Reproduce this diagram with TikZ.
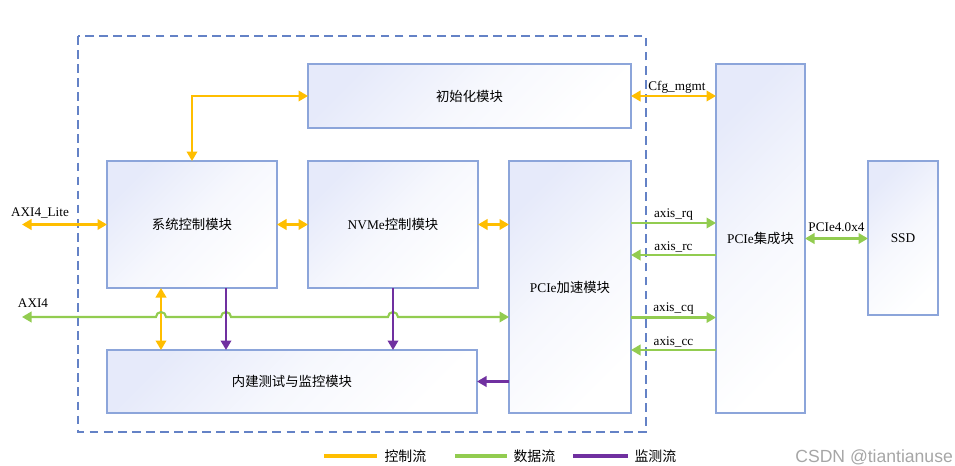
\documentclass[tikz,border=0pt]{standalone}
\usepackage{fontspec}
\setmainfont{Liberation Serif}
\newfontfamily\cjk{Noto Sans CJK SC}
\newfontfamily\wmfont{Liberation Sans}
\usepackage{xcolor}
\usepackage{tikz}
\usetikzlibrary{arrows.meta, positioning, calc}
\definecolor{ctrlc}{RGB}{255,190,0}
\definecolor{datac}{RGB}{146,204,80}
\definecolor{monc}{RGB}{112,48,160}
\definecolor{edgec}{RGB}{140,165,218}
\definecolor{framec}{RGB}{100,130,198}
\definecolor{boxtop}{RGB}{230,234,250}
\tikzset{
  module/.style={rectangle, draw=edgec, line width=0.8pt, top color=boxtop, bottom color=white, middle color=boxtop!35, shading angle=45, inner sep=0pt, outer sep=0pt, align=center, font=\fontsize{7.6}{9}\selectfont},
  ctrl/.style={draw=ctrlc, line width=1.2pt, {Triangle[length=1.9mm, width=2.1mm]}-{Triangle[length=1.9mm, width=2.1mm]}, color=ctrlc},
  dataflow/.style={draw=datac, line width=1.2pt, color=datac},
  monflow/.style={draw=monc, line width=1.2pt, -{Triangle[length=1.9mm, width=2.1mm]}, color=monc},
  sig/.style={font=\fontsize{7.5}{9}\selectfont, text=black, inner sep=1pt},
  legtext/.style={font=\cjk\fontsize{7.9}{9}\selectfont, text=black, anchor=west, inner sep=0pt},
}

\begin{document}
\begin{tikzpicture}
  \useasboundingbox (0,0) rectangle (19.1,-9.32);

  % Frame of the accelerator
  \draw[framec, line width=0.8pt, dash pattern=on 5pt off 3pt] (1.56,-0.72) rectangle (12.92,-8.64);

  % Modules
  \node[module, minimum width=6.46cm, minimum height=1.28cm] (initm) at (9.39,-1.92) {\cjk 初始化模块};
  \node[module, minimum width=3.4cm, minimum height=2.54cm] (sysctrl) at (3.84,-4.49) {\cjk 系统控制模块};
  \node[module, minimum width=3.4cm, minimum height=2.54cm] (nvme) at (7.86,-4.49) {NVMe{\cjk 控制模块}};
  \node[module, minimum width=2.44cm, minimum height=5.04cm] (pcieacc) at (11.4,-5.74) {PCIe{\cjk 加速模块}};
  \node[module, minimum width=7.4cm, minimum height=1.26cm] (bist) at (5.84,-7.63) {\cjk 内建测试与监控模块};
  \node[module, minimum width=1.78cm, minimum height=6.98cm] (pciecore) at (15.21,-4.77) {PCIe{\cjk 集成块}};
  \node[module, minimum width=1.4cm, minimum height=3.08cm] (ssd) at (18.06,-4.76) {SSD};

  % Control flow
  \coordinate (lite) at (0.44,-4.49);
  \node[sig] (litelbl) at (0.8,-4.26) {AXI4\_Lite};
  \draw[ctrl] (lite) -- (sysctrl.west);
  \draw[ctrl] (sysctrl.north) |- (initm.west);
  \draw[ctrl] (sysctrl.east) -- (nvme.west);
  \draw[ctrl] (nvme.east) -- (nvme.east -| pcieacc.west);
  \draw[ctrl] (initm.east) -- (initm.east -| pciecore.west);
  \node[sig] (cfglbl) at (13.54,-1.74) {Cfg\_mgmt};
  \draw[ctrl] ([xshift=-0.62cm]sysctrl.south) -- ([xshift=-0.62cm]sysctrl.south |- bist.north);

  % Data flow
  \coordinate (axi) at (0.44,-6.34);
  \node[sig] (axilbl) at (0.66,-6.06) {AXI4};
  \draw[dataflow, {Triangle[length=1.9mm, width=2.1mm]}-{Triangle[length=1.9mm, width=2.1mm]}] (axi) -- (3.12,-6.34) arc (180:0:0.1) -- (4.42,-6.34) arc (180:0:0.1) -- (7.76,-6.34) arc (180:0:0.1) -- (axi -| pcieacc.west);
  \coordinate (rq) at (0,-4.46);
  \coordinate (rc) at (0,-5.10);
  \coordinate (cq) at (0,-6.35);
  \coordinate (cc) at (0,-7.00);
  \draw[dataflow, -{Triangle[length=1.9mm, width=2.1mm]}] (pcieacc.east |- rq) -- (pciecore.west |- rq) node[sig, midway, above] {axis\_rq};
  \draw[dataflow, -{Triangle[length=1.9mm, width=2.1mm]}] (pciecore.west |- rc) -- (pcieacc.east |- rc) node[sig, midway, above] {axis\_rc};
  \draw[dataflow, -{Triangle[length=1.9mm, width=2.1mm]}] (pcieacc.east |- cq) -- (pciecore.west |- cq) node[sig, midway, above] {axis\_cq};
  \draw[dataflow, -{Triangle[length=1.9mm, width=2.1mm]}] (pciecore.west |- cc) -- (pcieacc.east |- cc) node[sig, midway, above] {axis\_cc};
  \draw[dataflow, {Triangle[length=1.9mm, width=2.1mm]}-{Triangle[length=1.9mm, width=2.1mm]}] (pciecore.east) -- (pciecore.east -| ssd.west) node[sig, midway, above=2pt] {PCIe4.0x4};

  % Monitor flow
  \draw[monflow] ([xshift=0.68cm]sysctrl.south) -- ([xshift=0.68cm]sysctrl.south |- bist.north);
  \draw[monflow] (nvme.south) -- (nvme.south |- bist.north);
  \draw[monflow] (pcieacc.west |- bist.east) -- (bist.east);

  % Legend
  \coordinate (lg1) at (6.48,-9.12);
  \coordinate (lg2) at (9.10,-9.12);
  \coordinate (lg3) at (11.46,-9.12);
  \draw[ctrlc, line width=1.8pt] (lg1) -- ++(1.06,0) node[legtext, right=0.12cm] (lgt1) {控制流};
  \draw[datac, line width=1.8pt] (lg2) -- ++(1.04,0) node[legtext, right=0.1cm] (lgt2) {数据流};
  \draw[monc, line width=1.8pt] (lg3) -- ++(1.1,0) node[legtext, right=0.1cm] (lgt3) {监测流};

  \node[font=\wmfont\fontsize{10}{12}\selectfont, text=black!35, anchor=west, inner sep=0pt] (wm) at (15.9,-9.14) {CSDN @tiantianuse};
\end{tikzpicture}
\end{document}
